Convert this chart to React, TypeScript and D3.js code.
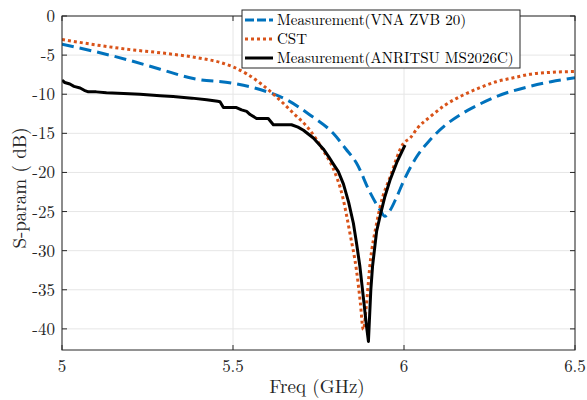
import React from "react";
import * as d3 from "d3";

const xTicks = [5, 5.5, 6, 6.5];
const yTicks = [0, -5, -10, -15, -20, -25, -30, -35, -40];

const vnaFreq = [5.0, 5.111, 5.2, 5.287, 5.384, 5.5, 5.579, 5.657, 5.725, 5.793, 5.83, 5.861, 5.9, 5.93, 5.944, 5.96, 5.979, 6.0, 6.037, 6.076, 6.12, 6.173, 6.22, 6.27, 6.368, 6.43, 6.5];
const vnaDb = [-3.6, -4.7, -5.7, -6.8, -8.0, -8.6, -9.4, -10.7, -12.65, -15.0, -17.0, -18.8, -22.5, -24.8, -25.6, -24.8, -23.1, -21.0, -18.0, -15.85, -14.0, -12.4, -11.3, -10.3, -9.0, -8.4, -7.9];

const cstFreq = [5.0, 5.1, 5.2, 5.287, 5.404, 5.46, 5.5, 5.54, 5.58, 5.608, 5.676, 5.725, 5.764, 5.793, 5.82, 5.842, 5.861, 5.872, 5.881, 5.89, 5.9, 5.92, 5.93, 5.96, 5.998, 6.018, 6.04, 6.076, 6.12, 6.173, 6.22, 6.27, 6.32, 6.368, 6.43, 6.5];
const cstDb = [-3.0, -3.7, -4.3, -4.7, -5.4, -5.9, -6.5, -7.4, -8.6, -9.6, -12.4, -14.6, -17.2, -19.5, -23.0, -27.8, -32.5, -36.5, -40.1, -37.0, -32.0, -26.5, -24.4, -20.5, -16.3, -15.6, -14.3, -12.9, -11.4, -10.1, -9.2, -8.4, -7.9, -7.45, -7.2, -7.1];

const anrFreq = [5.0, 5.008, 5.023, 5.035, 5.053, 5.065, 5.077, 5.1, 5.13, 5.18, 5.228, 5.287, 5.325, 5.38, 5.423, 5.455, 5.462, 5.472, 5.49, 5.51, 5.525, 5.54, 5.55, 5.569, 5.59, 5.603, 5.618, 5.64, 5.671, 5.69, 5.706, 5.735, 5.764, 5.78, 5.793, 5.808, 5.823, 5.838, 5.852, 5.861, 5.871, 5.881, 5.89, 5.896, 5.903, 5.908, 5.92, 5.93, 5.944, 5.959, 5.98, 6.003];
const anrDb = [-8.2, -8.5, -8.7, -9.0, -9.2, -9.5, -9.7, -9.7, -9.8, -9.9, -10.0, -10.2, -10.3, -10.5, -10.7, -10.9, -10.95, -11.7, -11.7, -11.7, -12.0, -12.2, -12.6, -13.1, -13.1, -13.1, -13.9, -13.9, -13.9, -14.2, -14.6, -15.6, -17.0, -18.0, -18.9, -19.9, -21.5, -23.8, -26.5, -29.0, -32.0, -35.9, -39.5, -41.6, -35.0, -32.0, -27.5, -25.6, -23.1, -21.0, -18.6, -16.5];

const W = 587;
const H = 400;
const L = 62, R = 575, T = 16, B = 350;
const font = "'Latin Modern Roman', 'CMU Serif', 'DejaVu Serif', serif";

export default function App() {
  const x = d3.scaleLinear().domain([5, 6.5]).range([L, R]);
  const y = d3.scaleLinear().domain([-42.7, 0]).range([B, T]);
  const line = (fs: number[], ds: number[]) =>
    d3.line<number>().x((_, i) => x(fs[i])).y((_, i) => y(ds[i])).curve(d3.curveMonotoneX)(fs.map((f) => f)) || "";
  const stepLine = (fs: number[], ds: number[]) =>
    d3.line<number>().x((_, i) => x(fs[i])).y((_, i) => y(ds[i]))(fs.map((f) => f)) || "";

  const series = [
    { name: "Measurement(VNA ZVB 20)", f: vnaFreq, d: vnaDb, color: "#0072BD", dash: "12,6", legDash: "9,3", smooth: true },
    { name: "CST", f: cstFreq, d: cstDb, color: "#D95319", dash: "3,3", legDash: "3,3", smooth: true },
    { name: "Measurement(ANRITSU MS2026C)", f: anrFreq, d: anrDb, color: "#000000", dash: "none", legDash: "none", smooth: false },
  ];
  const axisColor = "#262626";

  return (
    <svg width={W} height={H} style={{ position: "absolute", left: 0, top: 0, background: "#fff" }}>
      <rect x={0} y={0} width={W} height={H} fill="#fff" />
      {xTicks.map((t) => (
        <line key={"gx" + t} x1={x(t)} x2={x(t)} y1={T} y2={B} stroke="#e6e6e6" strokeWidth={1} />
      ))}
      {yTicks.map((t) => (
        <line key={"gy" + t} x1={L} x2={R} y1={y(t)} y2={y(t)} stroke="#e6e6e6" strokeWidth={1} />
      ))}
      <defs>
        <clipPath id="plot">
          <rect x={L} y={T} width={R - L} height={B - T} />
        </clipPath>
      </defs>
      <g clipPath="url(#plot)">
        {series.map((s) => (
          <path key={s.name} d={s.smooth ? line(s.f, s.d) : stepLine(s.f, s.d)} fill="none" stroke={s.color} strokeWidth={3}
            strokeDasharray={s.dash} strokeLinejoin="round" />
        ))}
      </g>
      <rect x={L} y={T} width={R - L} height={B - T} fill="none" stroke={axisColor} strokeWidth={1} />
      {xTicks.map((t) => (
        <g key={"tx" + t}>
          <line x1={x(t)} x2={x(t)} y1={B} y2={B - 5} stroke={axisColor} />
          <line x1={x(t)} x2={x(t)} y1={T} y2={T + 5} stroke={axisColor} />
          <text x={x(t)} y={372} textAnchor="middle" fontFamily={font} fontSize={17} fill={axisColor}>{t}</text>
        </g>
      ))}
      {yTicks.map((t) => (
        <g key={"ty" + t}>
          <line x1={L} x2={L + 5} y1={y(t)} y2={y(t)} stroke={axisColor} />
          <line x1={R} x2={R - 5} y1={y(t)} y2={y(t)} stroke={axisColor} />
          <text x={55} y={y(t) + 6} textAnchor="end" fontFamily={font} fontSize={17} fill={axisColor}>{t}</text>
        </g>
      ))}
      <text x={317} y={393} textAnchor="middle" fontFamily={font} fontSize={19} fill={axisColor}>Freq (GHz)</text>
      <text transform={`translate(26,188) rotate(-90)`} textAnchor="middle" fontFamily={font} fontSize={19} fill={axisColor}>S-param ( dB)</text>
      <rect x={242} y={10} width={278} height={58} fill="#fff" stroke="#262626" strokeWidth={1} />
      {series.map((s, i) => (
        <g key={"lg" + s.name}>
          <line x1={245} x2={273} y1={20 + i * 19} y2={20 + i * 19} stroke={s.color} strokeWidth={3} strokeDasharray={s.legDash} />
          <text x={277} y={24.5 + i * 19} fontFamily={font} fontSize={15} fill="#000">{s.name}</text>
        </g>
      ))}
    </svg>
  );
}
